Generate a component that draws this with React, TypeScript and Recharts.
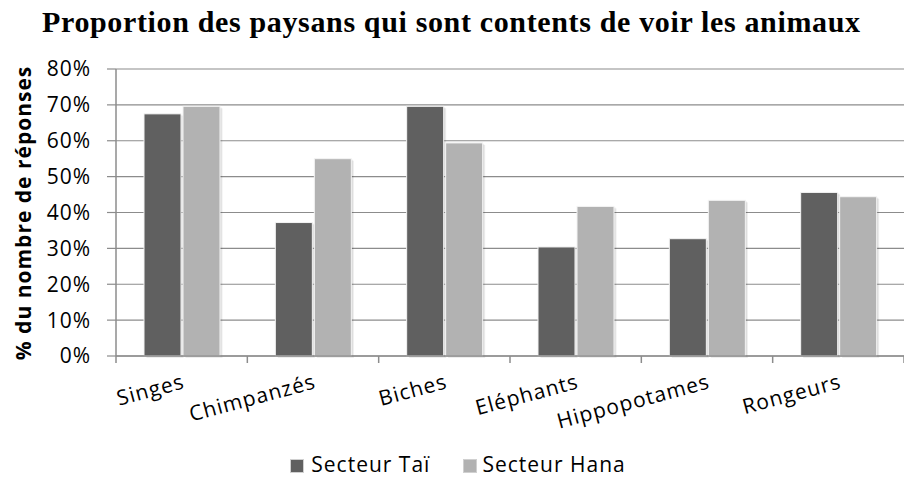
import React from "react";
import { BarChart, Bar, XAxis, YAxis, CartesianGrid, Legend } from "recharts";

const categories = ["Singes", "Chimpanzés", "Biches", "Eléphants", "Hippopotames", "Rongeurs"];
const seriesNames = ["Secteur Taï", "Secteur Hana"];
const secteurTai = [67.5, 37.2, 69.6, 30.4, 32.7, 45.6];
const secteurHana = [69.6, 55.0, 59.4, 41.7, 43.4, 44.4];
const yTicks = [0, 10, 20, 30, 40, 50, 60, 70, 80];

const data = categories.map((name, i) => ({
  name,
  tai: secteurTai[i],
  hana: secteurHana[i],
}));

const FONT = "'Open Sans', sans-serif";
const AXIS = "#8c8c8c";
const X_TICK_MARGIN = 32;

const ShadowBar = (props: any) => {
  const { x, y, width, height, fill } = props;
  if (!height || height <= 0) return null;
  return (
    <g>
      <rect x={x + 2.5} y={y + 2} width={width} height={height} fill="#000" opacity={0.07} />
      <rect x={x + 1.5} y={y + 1} width={width} height={height} fill="#000" opacity={0.08} />
      <rect x={x} y={y} width={width} height={height} fill={fill} stroke="#f4f4f4" strokeWidth={1} />
    </g>
  );
};

// category label, plus the excel-style tick marks between categories
const CategoryTick = (props: any) => {
  const { x, y, payload, index, visibleTicksCount } = props;
  const ax = x + 4;
  const axisY = y - X_TICK_MARGIN;
  const half = payload && payload.offset ? payload.offset : 0;
  const isLast = index === visibleTicksCount - 1;
  return (
    <g>
      <line x1={x - half} y1={axisY} x2={x - half} y2={axisY + 7} stroke={AXIS} strokeWidth={1.5} />
      {isLast && (
        <line x1={x + half} y1={axisY} x2={x + half} y2={axisY + 7} stroke={AXIS} strokeWidth={1.5} />
      )}
      <text
        x={ax}
        y={y}
        transform={`rotate(-15, ${ax}, ${y})`}
        textAnchor="end"
        fontFamily={FONT}
        fontSize={21}
        letterSpacing={1}
        fill="#000"
      >
        {payload.value}
      </text>
    </g>
  );
};

const LegendContent = (props: any) => {
  const items = [...(props.payload || [])].sort(
    (a: any, b: any) => seriesNames.indexOf(a.value) - seriesNames.indexOf(b.value)
  );
  return (
    <div
      style={{
        display: "flex",
        justifyContent: "center",
        height: 30,
        lineHeight: "30px",
        paddingLeft: 12,
        fontFamily: FONT,
        fontSize: 21,
        letterSpacing: 1,
        color: "#000",
      }}
    >
      {items.map((item: any, i: number) => (
        <div key={i} style={{ display: "flex", alignItems: "center", marginLeft: i ? 33 : 0 }}>
          <span
            style={{
              display: "inline-block",
              width: 12,
              height: 12,
              background: item.color,
              border: "1px solid #d0d0d0",
              marginRight: i ? 5 : 7,
              marginTop: 4,
            }}
          />
          <span>{item.value}</span>
        </div>
      ))}
    </div>
  );
};

export default function App() {
  return (
    <div style={{ position: "absolute", left: 0, top: 0, width: 904, height: 479, background: "#fff" }}>
      <BarChart
        width={904}
        height={479}
        data={data}
        margin={{ top: 69, right: 0, bottom: 0, left: 0 }}
        barGap={2}
      >
        <CartesianGrid vertical={false} stroke={AXIS} strokeWidth={1.2} />
        <XAxis
          dataKey="name"
          height={93}
          interval={0}
          axisLine={{ stroke: AXIS, strokeWidth: 1.5 }}
          tickLine={false}
          tickSize={0}
          tickMargin={X_TICK_MARGIN}
          tick={<CategoryTick />}
        />
        <YAxis
          width={116}
          domain={[0, 80]}
          ticks={yTicks}
          interval={0}
          tickFormatter={(v: number) => `${v}%`}
          tickSize={9}
          tickMargin={16}
          axisLine={{ stroke: AXIS, strokeWidth: 1.5 }}
          tickLine={{ stroke: AXIS, strokeWidth: 1.2 }}
          tick={{ fill: "#000", fontSize: 21, fontFamily: FONT, letterSpacing: 1 }}
        />
        <Bar
          dataKey="tai"
          name={seriesNames[0]}
          fill="#606060"
          barSize={37}
          shape={<ShadowBar />}
          isAnimationActive={false}
        />
        <Bar
          dataKey="hana"
          name={seriesNames[1]}
          fill="#b2b2b2"
          barSize={37}
          shape={<ShadowBar />}
          isAnimationActive={false}
        />
        <Legend verticalAlign="bottom" content={<LegendContent />} />
      </BarChart>
      <svg
        width={904}
        height={479}
        style={{ position: "absolute", left: 0, top: 0, pointerEvents: "none" }}
      >
        <text
          x={451}
          y={32}
          textAnchor="middle"
          fontFamily="'Liberation Serif', serif"
          fontWeight="bold"
          fontSize={30}
          textLength={818}
          lengthAdjust="spacing"
          fill="#000"
        >
          Proportion des paysans qui sont contents de voir les animaux
        </text>
        <text
          x={23}
          y={213}
          transform="rotate(-90, 23, 213)"
          textAnchor="middle"
          dominantBaseline="central"
          fontFamily={FONT}
          fontWeight="bold"
          fontSize={21}
          letterSpacing={1}
          fill="#000"
        >
          % du nombre de réponses
        </text>
      </svg>
    </div>
  );
}
